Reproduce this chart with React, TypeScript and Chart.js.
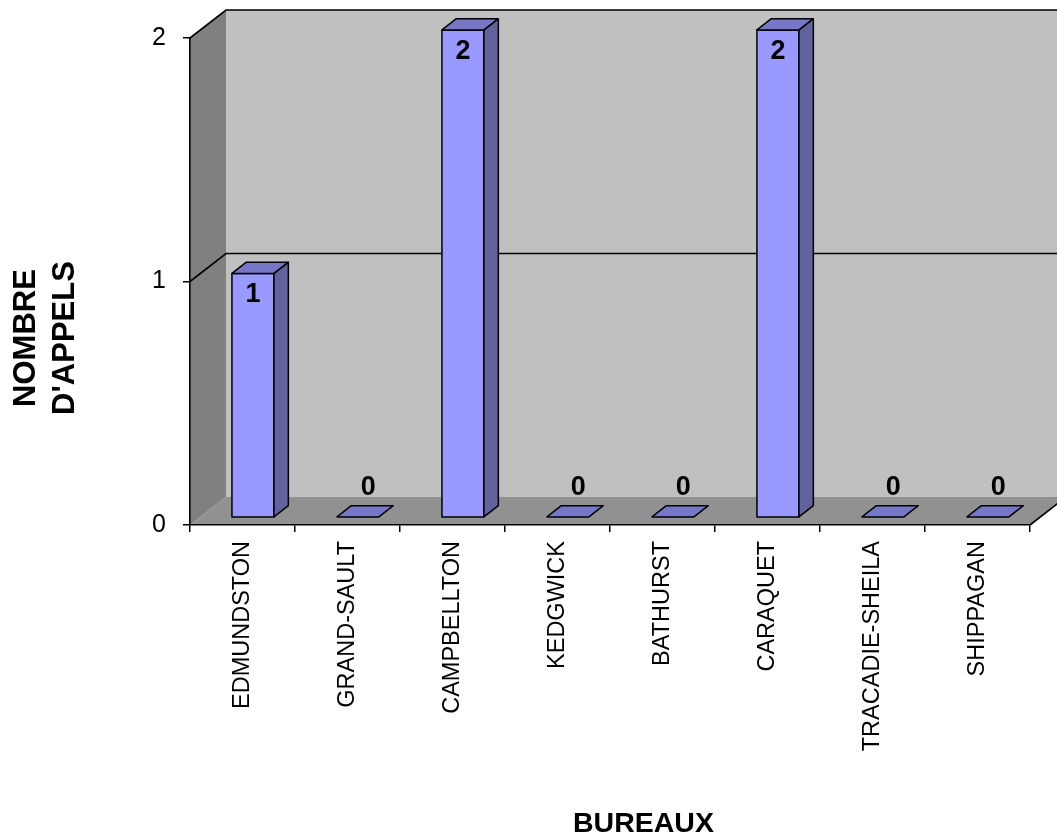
import React, { useEffect, useRef } from "react";
import { Chart, registerables } from "chart.js";

Chart.register(...registerables);

// ---- data ----
const categories = [
  "EDMUNDSTON",
  "GRAND-SAULT",
  "CAMPBELLTON",
  "KEDGWICK",
  "BATHURST",
  "CARAQUET",
  "TRACADIE-SHEILA",
  "SHIPPAGAN",
];
const calls = [1, 0, 2, 0, 0, 2, 0, 0];
const yTicks = [0, 1, 2];
const xTitle = "BUREAUX";
const yTitleLines = ["NOMBRE", "D'APPELS"];

// ---- style ----
const W = 1057;
const H = 839;
const DEPTH_X = 36;
const DEPTH_Y = -28;
const BAR_FRONT = 0.29;
const BAR_BACK = 0.69;
const BAR_WIDTH_FRAC = 0.4;
const FONT = "'Liberation Sans', Arial, Helvetica, sans-serif";
const COL_BACK = "#C0C0C0";
const COL_LEFT = "#808080";
const COL_FLOOR = "#919191";
const COL_FRONT = "#9999FF";
const COL_TOP = "#7777C8";
const COL_SIDE = "#62629F";

const wallsPlugin = {
  id: "walls3d",
  beforeDraw(chart: any) {
    const { ctx, scales } = chart;
    const x = scales.x;
    const y = scales.y;
    const x0 = x.left;
    const x1 = x.right;
    const yMax = y.getPixelForValue(yTicks[yTicks.length - 1]);
    const yMin = y.getPixelForValue(yTicks[0]);
    ctx.save();
    ctx.fillStyle = "#ffffff";
    ctx.fillRect(0, 0, chart.width, chart.height);
    // back wall
    ctx.fillStyle = COL_BACK;
    ctx.fillRect(x0 + DEPTH_X, yMax + DEPTH_Y, x1 - x0, yMin - yMax);
    // left wall
    ctx.fillStyle = COL_LEFT;
    ctx.beginPath();
    ctx.moveTo(x0, yMax);
    ctx.lineTo(x0 + DEPTH_X, yMax + DEPTH_Y);
    ctx.lineTo(x0 + DEPTH_X, yMin + DEPTH_Y);
    ctx.lineTo(x0, yMin);
    ctx.closePath();
    ctx.fill();
    // floor
    ctx.fillStyle = COL_FLOOR;
    ctx.beginPath();
    ctx.moveTo(x0, yMin);
    ctx.lineTo(x0 + DEPTH_X, yMin + DEPTH_Y);
    ctx.lineTo(x1 + DEPTH_X, yMin + DEPTH_Y);
    ctx.lineTo(x1, yMin);
    ctx.closePath();
    ctx.fill();
    // grid lines (value > 0)
    ctx.strokeStyle = "#000";
    ctx.lineWidth = 1.6;
    yTicks.forEach((v) => {
      if (v === yTicks[0]) return;
      const py = y.getPixelForValue(v);
      ctx.beginPath();
      ctx.moveTo(x0, py);
      ctx.lineTo(x0 + DEPTH_X, py + DEPTH_Y);
      ctx.lineTo(x1 + DEPTH_X, py + DEPTH_Y);
      ctx.stroke();
    });
    // floor right edge
    ctx.beginPath();
    ctx.moveTo(x1, yMin);
    ctx.lineTo(x1 + DEPTH_X, yMin + DEPTH_Y);
    ctx.stroke();
    ctx.restore();
  },
  afterDatasetsDraw(chart: any) {
    const { ctx, scales } = chart;
    const x = scales.x;
    const y = scales.y;
    const values = chart.data.datasets[0].data as number[];
    const base = y.getPixelForValue(0);
    const catW = x.getPixelForValue(1) - x.getPixelForValue(0);
    const half = (catW * BAR_WIDTH_FRAC) / 2;
    const fdx = DEPTH_X * BAR_FRONT;
    const fdy = DEPTH_Y * BAR_FRONT;
    const bdx = DEPTH_X * (BAR_BACK - BAR_FRONT);
    const bdy = DEPTH_Y * (BAR_BACK - BAR_FRONT);
    ctx.save();
    ctx.lineWidth = 1.5;
    ctx.strokeStyle = "#000";
    ctx.lineJoin = "round";
    values.forEach((v, i) => {
      const cx = x.getPixelForValue(i) + fdx;
      const L = cx - half;
      const R = cx + half;
      const top = y.getPixelForValue(v) + fdy;
      const bot = base + fdy;
      if (v > 0) {
        // front
        ctx.fillStyle = COL_FRONT;
        ctx.beginPath();
        ctx.rect(L, top, R - L, bot - top);
        ctx.fill();
        ctx.stroke();
        // side
        ctx.fillStyle = COL_SIDE;
        ctx.beginPath();
        ctx.moveTo(R, top);
        ctx.lineTo(R + bdx, top + bdy);
        ctx.lineTo(R + bdx, bot + bdy);
        ctx.lineTo(R, bot);
        ctx.closePath();
        ctx.fill();
        ctx.stroke();
      }
      // top
      ctx.fillStyle = COL_TOP;
      ctx.beginPath();
      ctx.moveTo(L, top);
      ctx.lineTo(R, top);
      ctx.lineTo(R + bdx, top + bdy);
      ctx.lineTo(L + bdx, top + bdy);
      ctx.closePath();
      ctx.fill();
      ctx.stroke();
      // label
      ctx.fillStyle = "#000";
      ctx.font = `bold 27px ${FONT}`;
      ctx.textAlign = "center";
      ctx.textBaseline = "alphabetic";
      if (v > 0) {
        ctx.fillText(String(v), cx, top + 29);
      } else {
        ctx.fillText(String(v), cx + bdx / 2 + 3, top + bdy - 11);
      }
    });
    ctx.restore();
  },
  afterDraw(chart: any) {
    const { ctx } = chart;
    ctx.save();
    ctx.fillStyle = "#000";
    ctx.font = `bold 28.5px ${FONT}`;
    ctx.textAlign = "center";
    ctx.textBaseline = "alphabetic";
    ctx.fillText(xTitle, 643.5, 832);
    ctx.font = `bold 31px ${FONT}`;
    const baselines = [35, 74];
    yTitleLines.forEach((t, k) => {
      ctx.save();
      ctx.translate(baselines[k], 338);
      ctx.rotate(-Math.PI / 2);
      ctx.fillText(t, 0, 0);
      ctx.restore();
    });
    ctx.restore();
  },
};

export default function App() {
  const ref = useRef<HTMLCanvasElement | null>(null);
  useEffect(() => {
    document.body.style.margin = "0";
    const canvas = ref.current;
    if (!canvas) return;
    const chart = new Chart(canvas, {
      type: "bar",
      data: {
        labels: categories,
        datasets: [
          {
            data: calls,
            backgroundColor: "rgba(0,0,0,0)",
            borderWidth: 0,
          },
        ],
      },
      options: {
        responsive: false,
        animation: false,
        devicePixelRatio: 1,
        events: [],
        layout: { padding: { left: 0, top: 38, right: 27, bottom: 0 } },
        plugins: {
          legend: { display: false },
          title: { display: false },
          tooltip: { enabled: false },
        },
        scales: {
          x: {
            type: "category",
            offset: true,
            grid: {
              offset: true,
              drawOnChartArea: false,
              drawTicks: true,
              tickLength: 7,
              color: "#000",
              lineWidth: 1.5,
            },
            border: { display: true, color: "#000", width: 1.6 },
            ticks: {
              autoSkip: false,
              maxRotation: 90,
              minRotation: 90,
              padding: 9,
              color: "#000",
              font: { family: FONT, size: 23.5 },
            },
            afterFit: (s: any) => {
              s.height = 314;
            },
          },
          y: {
            type: "linear",
            min: yTicks[0],
            max: yTicks[yTicks.length - 1],
            grid: {
              drawOnChartArea: false,
              drawTicks: true,
              tickLength: 7,
              color: "#000",
              lineWidth: 1.5,
            },
            border: { display: true, color: "#000", width: 1.6 },
            ticks: {
              stepSize: 1,
              padding: 17,
              color: "#000",
              font: { family: FONT, size: 25 },
            },
            afterBuildTicks: (s: any) => {
              s.ticks = yTicks.map((v) => ({ value: v }));
            },
            afterFit: (s: any) => {
              s.width = 190;
            },
          },
        },
      },
      plugins: [wallsPlugin],
    });
    return () => chart.destroy();
  }, []);
  return (
    <div style={{ position: "fixed", left: 0, top: 0, width: W, height: H, background: "#fff" }}>
      <canvas ref={ref} width={W} height={H} style={{ display: "block", width: W, height: H }} />
    </div>
  );
}
